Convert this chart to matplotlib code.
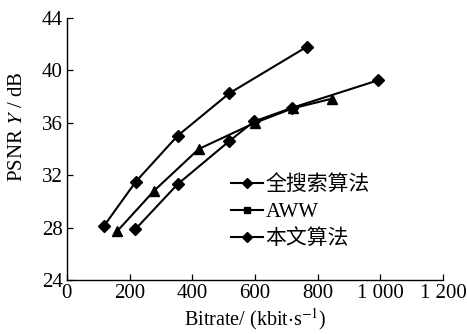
import matplotlib
matplotlib.use("Agg")
import matplotlib.pyplot as plt
from matplotlib.lines import Line2D

# Data
full_x = [118, 220, 353, 518, 765]
full_y = [28.1, 31.5, 35.0, 38.25, 41.8]

aww_x = [160, 278, 421, 600, 720, 847]
aww_y = [27.7, 30.8, 34.0, 36.0, 37.1, 37.85]

ours_x = [218, 353, 518, 597, 719, 993]
ours_y = [27.85, 31.3, 34.6, 36.1, 37.15, 39.25]

labels = ["全搜索算法", "AWW", "本文算法"]
xticks = [0, 200, 400, 600, 800, 1000, 1200]
xticklabels = ["0", "200", "400", "600", "800", "1 000", "1 200"]
yticks = [24, 28, 32, 36, 40, 44]

plt.rcParams['font.family'] = ['Liberation Serif', 'Noto Sans CJK SC', 'DejaVu Sans']
plt.rcParams['mathtext.fontset'] = 'stix'

fig = plt.figure(figsize=(4.67, 3.34), dpi=100)
ax = fig.add_axes([0.143, 0.162, 0.806, 0.784])

lw = 1.5
ax.plot(full_x, full_y, color='black', lw=lw, marker='D', ms=6.5, label=labels[0])
ax.plot(aww_x, aww_y, color='black', lw=lw, marker='^', ms=7, label=labels[1])
ax.plot(ours_x, ours_y, color='black', lw=lw, marker='D', ms=6.5, label=labels[2])

ax.set_xlim(0, 1200)
ax.set_ylim(24, 44)
ax.set_xticks(xticks)
ax.set_xticklabels(xticklabels)
ax.set_yticks(yticks)
ax.tick_params(direction='in', length=4, width=0.9, labelsize=15)
ax.tick_params(axis='x', pad=3)
ax.tick_params(axis='y', pad=3)
for s in ['top', 'right']:
    ax.spines[s].set_visible(False)
for s in ['left', 'bottom']:
    ax.spines[s].set_linewidth(1.0)

ax.set_xlabel(r"Bitrate/ (kbit$\cdot$s$^{-1}$)", fontsize=14.5)
ax.set_ylabel(r"PSNR $Y$ / dB", fontsize=15)
ax.xaxis.set_label_coords(0.5, -0.098)
ax.yaxis.set_label_coords(-0.105, 0.585)

handles = [
    Line2D([], [], color='black', lw=lw, marker='D', ms=5.5),
    Line2D([], [], color='black', lw=lw, marker='s', ms=5),
    Line2D([], [], color='black', lw=lw, marker='D', ms=5.5),
]
leg = ax.legend(handles, labels, loc='upper left', bbox_to_anchor=(0.415, 0.43),
                frameon=False, handlelength=1.5, handletextpad=0.15,
                labelspacing=0.33, borderaxespad=0,
                prop={'family': ['Liberation Serif', 'Noto Sans CJK SC'], 'size': 15})

fig.savefig("out.png", dpi=100)
